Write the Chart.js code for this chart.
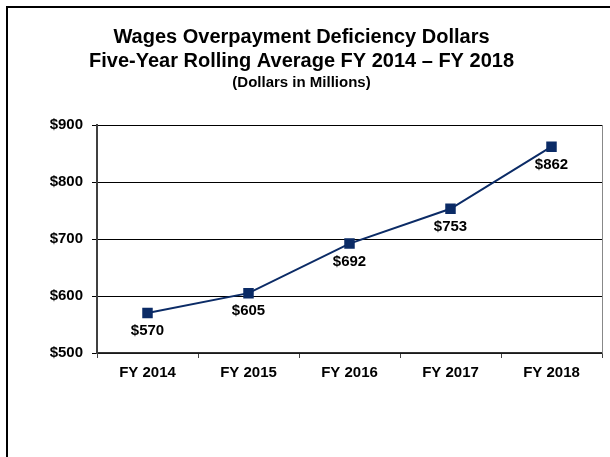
<!DOCTYPE html>
<html lang="en">
  <head>
    <meta charset="UTF-8" />
    <title>Wages Overpayment Deficiency Dollars</title>
    <style>
      html, body { margin: 0; padding: 0; background: #fff; overflow: hidden; }
      .frame {
        position: absolute; left: 6px; top: 6px; width: 700px; height: 600px;
        border-left: 2px solid #000; border-top: 2px solid #000;
      }
      #myChart { position: absolute; left: 0; top: 0; }
    </style>
  </head>
  <body>
    <div class="frame"></div>
    <canvas id="myChart" width="610" height="457"></canvas>
    <script src="https://cdn.jsdelivr.net/npm/chart.js@4"></script>
    <script>
      const labels = ['FY 2014', 'FY 2015', 'FY 2016', 'FY 2017', 'FY 2018'];
      const dollars = [570, 605, 692, 753, 862];
      const yTicks = [500, 600, 700, 800, 900];

      const navy = '#0b2b66';
      Chart.defaults.font.family = "'Liberation Sans', Arial, sans-serif";
      Chart.defaults.font.weight = 'bold';
      Chart.defaults.color = '#000';

      // value labels under each point + right edge of plot area
      const extras = {
        id: 'extras',
        afterDatasetsDraw(chart) {
          const ctx = chart.ctx;
          const area = chart.chartArea;
          ctx.save();
          ctx.strokeStyle = '#888';
          ctx.lineWidth = 1;
          ctx.beginPath();
          ctx.moveTo(area.right + 0.5, area.top);
          ctx.lineTo(area.right + 0.5, area.bottom);
          ctx.stroke();

          ctx.font = "bold 15px 'Liberation Sans', Arial, sans-serif";
          ctx.fillStyle = '#000';
          ctx.textAlign = 'center';
          ctx.textBaseline = 'middle';
          chart.getDatasetMeta(0).data.forEach((pt, i) => {
            ctx.fillText('$' + dollars[i], pt.x, pt.y + 18);
          });
          ctx.restore();
        },
      };

      const config = {
        type: 'line',
        data: {
          labels: labels,
          datasets: [
            {
              data: dollars,
              borderColor: navy,
              backgroundColor: navy,
              borderWidth: 2,
              pointStyle: 'rect',
              pointRadius: 6,
              pointHoverRadius: 6,
              tension: 0,
            },
          ],
        },
        options: {
          responsive: false,
          animation: false,
          layout: { padding: { left: 0, right: 7, top: 0, bottom: 0 } },
          plugins: {
            legend: { display: false },
            tooltip: { enabled: false },
            title: {
              display: true,
              text: ['Wages Overpayment Deficiency Dollars', 'Five-Year Rolling Average FY 2014 \u2013 FY 2018'],
              font: { size: 20, weight: 'bold', lineHeight: 1.2 },
              padding: { top: 25, bottom: 1 },
            },
            subtitle: {
              display: true,
              text: '(Dollars in Millions)',
              font: { size: 15, weight: 'bold', lineHeight: 1.2 },
              color: '#000',
              padding: { top: 0, bottom: 33 },
            },
          },
          scales: {
            x: {
              offset: true,
              grid: { drawOnChartArea: false, tickLength: 5, color: '#444', offset: true },
              border: { color: '#333', width: 1.5 },
              ticks: { font: { size: 15, weight: 'bold' }, padding: 6 },
              afterFit(scale) { scale.height = 104; },
            },
            y: {
              min: 500,
              max: 900,
              afterBuildTicks(scale) { scale.ticks = yTicks.map((v) => ({ value: v })); },
              grid: { color: '#000', lineWidth: 1, tickLength: 5 },
              border: { color: '#404040', width: 2 },
              ticks: {
                font: { size: 15, weight: 'bold' },
                padding: 9,
                callback: (v) => '$' + v,
              },
              afterFit(scale) { scale.width = 97; },
            },
          },
        },
        plugins: [extras],
      };

      new Chart(document.getElementById('myChart'), config);
    </script>
  </body>
</html>
